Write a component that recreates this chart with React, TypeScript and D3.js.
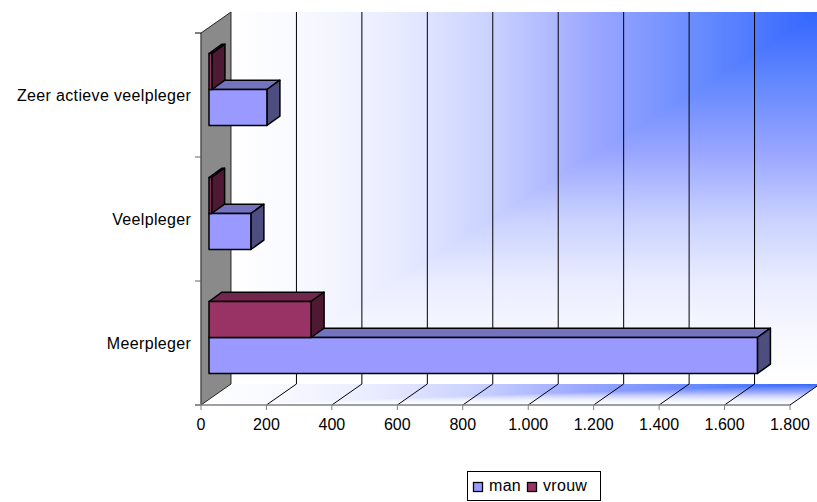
import React from "react";
import * as d3 from "d3";

const categories = ["Zeer actieve veelpleger", "Veelpleger", "Meerpleger"];
const man = [177, 128, 1676];
const vrouw = [9, 8, 312];
const xTicks = [0, 200, 400, 600, 800, 1000, 1200, 1400, 1600, 1800];
const xTickLabels = ["0", "200", "400", "600", "800", "1.000", "1.200", "1.400", "1.600", "1.800"];
const rampStops: [number, string][] = [[0, "#3366ff"], [0.2, "#668aff"], [0.38, "#9aa6ff"], [0.55, "#c8d0ff"], [0.72, "#e9ecff"], [0.88, "#f8f9ff"], [1, "#ffffff"]];

const W = 817, H = 502;
const x0 = 201, x1 = 790, yTop = 33, yBot = 405;
const DX = 30, DY = -21;
const barDX = 13, barDY = -9.3;
const offX = 8, offY = -5.5;
const FONT = "'Liberation Sans', Arial, sans-serif";

const x = d3.scaleLinear().domain([0, 1800]).range([x0, x1]);
const y = d3.scaleBand<string>().domain(categories).range([yTop, yBot]);
const barH = 36;

function poly(pts: [number, number][]) {
  return d3.line()(pts)! + "Z";
}

function Grad({ id, x1, y1, x2, y2 }: { id: string; x1: number; y1: number; x2: number; y2: number }) {
  return (
    <linearGradient id={id} gradientUnits="userSpaceOnUse" x1={x1} y1={y1} x2={x2} y2={y2}>
      {rampStops.map(([o, c]) => <stop key={o} offset={o} stopColor={c} />)}
    </linearGradient>
  );
}

function Bar({ value, top, front, topC, side }: { value: number; top: number; front: string; topC: string; side: string }) {
  const l = x(0) + offX;
  const r = x(value) + offX;
  const b = top + barH;
  const s = { stroke: "#000", strokeWidth: 1.5, strokeLinejoin: "round" as const };
  return (
    <g>
      <path d={poly([[l, top], [l + barDX, top + barDY], [r + barDX, top + barDY], [r, top]])} fill={topC} {...s} />
      <path d={poly([[r, top], [r + barDX, top + barDY], [r + barDX, b + barDY], [r, b]])} fill={side} {...s} />
      <rect x={l} y={top} width={r - l} height={barH} fill={front} {...s} />
    </g>
  );
}

export default function App() {
  const wl = x0 + DX, wr = x1 + DX, wt = yTop + DY, wb = yBot + DY;
  return (
    <svg width={W} height={H} style={{ position: "absolute", left: 0, top: 0 }} fontFamily={FONT}>
      <defs>
        <Grad id="wallH" x1={wr} y1={0} x2={wl} y2={0} />
        <Grad id="wallV" x1={0} y1={wt} x2={0} y2={wb} />
        <Grad id="floorH" x1={wr} y1={0} x2={x0} y2={0} />
        <Grad id="floorV" x1={0} y1={wb} x2={0} y2={yBot} />
        <clipPath id="floorClip"><path d={poly([[x0, yBot], [wl, wb], [wr, wb], [x1, yBot]])} /></clipPath>
      </defs>
      {/* back wall: full rect, then the upper-left triangle on top, so no seam shows */}
      <rect x={wl} y={wt} width={wr - wl} height={wb - wt} fill="url(#wallV)" />
      <path d={poly([[wl, wt], [wr, wt], [wl, wb]])} fill="url(#wallH)" />
      {/* floor */}
      <g clipPath="url(#floorClip)">
        <rect x={x0} y={wb} width={wr - x0} height={yBot - wb} fill="url(#floorV)" />
        <path d={poly([[x0, wb], [wr, wb], [x0, yBot]])} fill="url(#floorH)" />
      </g>
      {/* grid lines */}
      {xTicks.slice(1).map(t => (
        <g key={t} stroke="#000" strokeWidth={1}>
          {t < 1800 && <line x1={x(t) + DX} x2={x(t) + DX} y1={wt} y2={wb} />}
          <line x1={x(t)} y1={yBot} x2={x(t) + DX} y2={wb} />
        </g>
      ))}
      {/* left wall */}
      <path d={poly([[x0, yTop], [wl, wt], [wl, wb], [x0, yBot]])} fill="#8a8a8a" stroke="#000" strokeWidth={0.8} />
      {/* axes */}
      <line x1={x0} x2={x0} y1={yTop} y2={yBot} stroke="#666" strokeWidth={1} />
      {[yTop, ...categories.map(c => y(c)! + y.bandwidth())].map(v => (
        <line key={v} x1={x0 - 6} x2={x0} y1={v} y2={v} stroke={v === yTop ? "#000" : "#666"} strokeWidth={1} />
      ))}
      <line x1={x0 - 6} x2={x1} y1={yBot} y2={yBot} stroke="#808080" strokeWidth={1.5} />
      {xTicks.map((t, i) => (
        <g key={t}>
          <line x1={x(t)} x2={x(t)} y1={yBot} y2={yBot + 5} stroke="#808080" strokeWidth={1} />
          <text x={x(t)} y={430} textAnchor="middle" fontSize={16} fill="#000">{xTickLabels[i]}</text>
        </g>
      ))}
      {categories.map(c => (
        <text key={c} x={191.3} y={y(c)! + y.bandwidth() / 2 + 5.5} textAnchor="end" fontSize={16} letterSpacing={0.35} fill="#000">{c}</text>
      ))}
      {/* bars */}
      {categories.map((c, i) => {
        const mid = y(c)! + y.bandwidth() / 2 + offY;
        return (
          <g key={c}>
            <Bar value={man[i]} top={mid} front="#9999ff" topC="#7373bf" side="#4d4d80" />
            <Bar value={vrouw[i]} top={mid - barH} front="#993366" topC="#73264d" side="#4d1933" />
          </g>
        );
      })}
      {/* legend */}
      <rect x={467.5} y={471.5} width={133} height={29} fill="#fff" stroke="#000" strokeWidth={1} />
      <rect x={473.5} y={482.5} width={9} height={9} fill="#9999ff" stroke="#000" strokeWidth={1.3} />
      <text x={489} y={491} fontSize={16} letterSpacing={0.3} fill="#000">man</text>
      <rect x={527.5} y={482.5} width={9} height={9} fill="#993366" stroke="#000" strokeWidth={1.3} />
      <text x={543} y={491} fontSize={16} letterSpacing={0.3} fill="#000">vrouw</text>
    </svg>
  );
}
